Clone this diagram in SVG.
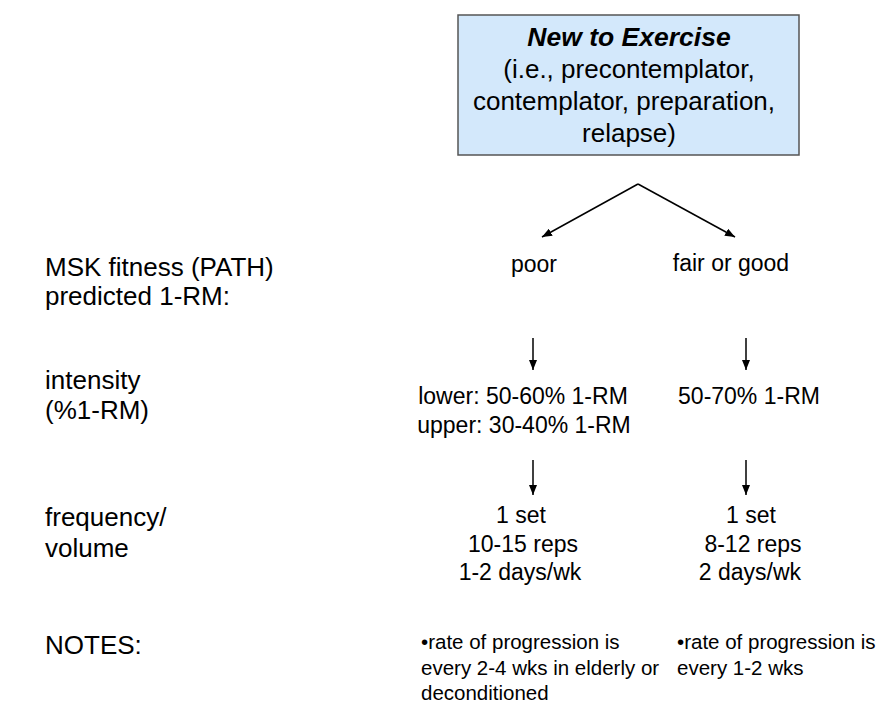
<svg xmlns="http://www.w3.org/2000/svg" width="892" height="720" viewBox="0 0 892 720">
<style>
text{font-family:"Liberation Sans",Arial,Helvetica,sans-serif;fill:#000}
.lab{font-size:26px}
.t{font-size:23px;text-anchor:middle}
.b{font-size:26px;text-anchor:middle}
.ti{font-size:26.5px;text-anchor:middle;font-weight:bold;font-style:italic}
.n{font-size:20.5px}
.box{fill:#d3e8fb;stroke:#555;stroke-width:1.5}
.c{stroke:#000;stroke-width:1.5;fill:none;marker-end:url(#ah)}
</style>
<defs>
<marker id="ah" markerWidth="10" markerHeight="8" refX="10" refY="4" orient="auto" markerUnits="userSpaceOnUse">
<path d="M0,0 L10,4 L0,8 Z" fill="#000"/>
</marker>
</defs>
<rect width="892" height="720" fill="#fff"/>
<g id="root">
<rect class="box" x="458" y="15" width="341" height="140"/>
<text class="ti" x="629" y="46">New to Exercise</text>
<text class="b" x="629" y="78">(i.e., precontemplator,</text>
<text class="b" x="624" y="110">contemplator, preparation,</text>
<text class="b" x="629" y="142">relapse)</text>
</g>
<g id="labels">
<text class="lab" x="45" y="276">MSK fitness (PATH)</text>
<text class="lab" x="45" y="305">predicted 1-RM:</text>
<text class="lab" x="45" y="389">intensity</text>
<text class="lab" x="45" y="419">(%1-RM)</text>
<text class="lab" x="45" y="526">frequency/</text>
<text class="lab" x="45" y="557">volume</text>
<text class="lab" x="45" y="654">NOTES:</text>
</g>
<g id="poor"><text class="t" x="534" y="272">poor</text></g>
<g id="fairgood"><text class="t" x="731" y="271">fair or good</text></g>
<g id="int-poor">
<text class="t" x="523" y="404">lower: 50-60% 1-RM</text>
<text class="t" x="524" y="433">upper: 30-40% 1-RM</text>
</g>
<g id="int-good"><text class="t" x="749" y="404">50-70% 1-RM</text></g>
<g id="freq-poor">
<text class="t" x="521" y="523">1 set</text>
<text class="t" x="523" y="552">10-15 reps</text>
<text class="t" x="520" y="580">1-2 days/wk</text>
</g>
<g id="freq-good">
<text class="t" x="751" y="523">1 set</text>
<text class="t" x="753" y="552">8-12 reps</text>
<text class="t" x="750" y="580">2 days/wk</text>
</g>
<g id="notes-poor">
<text class="n" x="421" y="649">•rate of progression is</text>
<text class="n" x="421" y="675">every 2-4 wks in elderly or</text>
<text class="n" x="421" y="700">deconditioned</text>
</g>
<g id="notes-good">
<text class="n" x="677" y="649">•rate of progression is</text>
<text class="n" x="677" y="675">every 1-2 wks</text>
</g>
<g id="connectors">
<line class="c" x1="638" y1="184" x2="542" y2="237"/>
<line class="c" x1="638" y1="184" x2="735" y2="237"/>
<line class="c" x1="533" y1="338" x2="533" y2="370"/>
<line class="c" x1="746" y1="338" x2="746" y2="370"/>
<line class="c" x1="533" y1="460" x2="533" y2="495"/>
<line class="c" x1="746" y1="460" x2="746" y2="495"/>
</g>
</svg>
